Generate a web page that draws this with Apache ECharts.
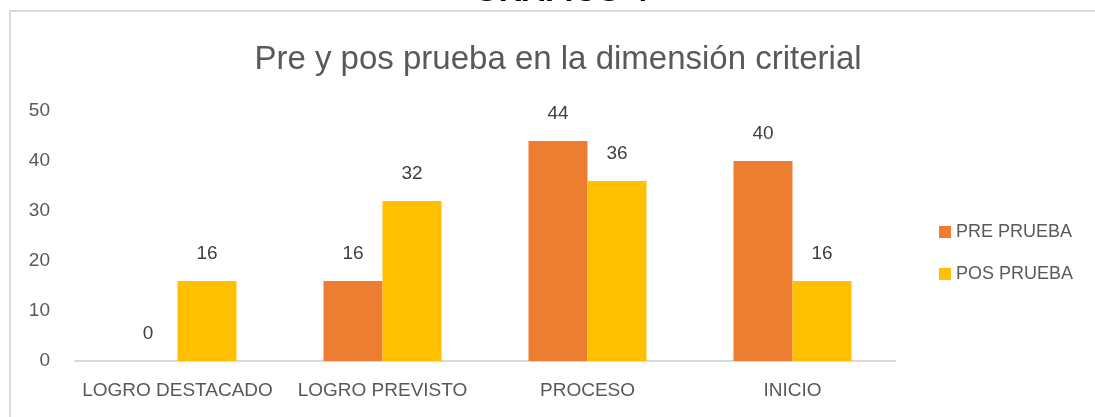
<!DOCTYPE html>
<html>
<head>
<meta charset="utf-8">
<script src="https://cdn.jsdelivr.net/npm/echarts@6/dist/echarts.min.js"></script>
<style>
  html, body { margin: 0; padding: 0; background: #fff; }
  #chart { width: 1095px; height: 417px; }
</style>
</head>
<body>
<div id="chart"></div>
<script>
const categories = ['LOGRO DESTACADO', 'LOGRO PREVISTO', 'PROCESO', 'INICIO']
const preValues = [0, 16, 44, 40]
const posValues = [16, 32, 36, 16]
const seriesNames = ['PRE PRUEBA', 'POS PRUEBA']

const fontFamily = 'Liberation Sans, Arial, sans-serif'
const labelColor = '#404040'
const axisColor = '#595959'

const chart = echarts.init(document.getElementById('chart'))

const barLabel = {
  show: true,
  position: 'top',
  distance: 18,
  color: labelColor,
  fontSize: 19,
  fontFamily,
}

chart.setOption({
  animation: false,
  title: {
    text: 'Pre y pos prueba en la dimensión criterial',
    left: 553,
    textAlign: 'center',
    top: 38,
    textStyle: {
      color: axisColor,
      fontSize: 33,
      fontWeight: 'normal',
      fontFamily,
    },
  },
  graphic: [
    {
      type: 'rect',
      shape: { x: 10, y: 11, width: 1100, height: 420 },
      style: { fill: 'none', stroke: '#d9d9d9', lineWidth: 2 },
      silent: true,
    },
    {
      // page heading above the chart box, cut off at the top
      type: 'text',
      x: 561,
      y: -8,
      style: {
        text: 'GRÁFICO 4',
        align: 'center',
        verticalAlign: 'middle',
        fill: '#000',
        font: 'bold 32px Liberation Sans, Arial, sans-serif',
      },
      silent: true,
    },
  ],
  legend: {
    orient: 'vertical',
    left: 934,
    top: 218,
    itemWidth: 12,
    itemHeight: 12,
    itemGap: 24,
    icon: 'rect',
    data: seriesNames,
    textStyle: {
      color: axisColor,
      fontSize: 18,
      fontFamily,
    },
  },
  grid: {
    left: 75,
    right: 200,
    top: 111,
    bottom: 56,
    containLabel: false,
  },
  xAxis: {
    type: 'category',
    data: categories,
    axisLine: { lineStyle: { color: '#d9d9d9', width: 2 } },
    axisTick: { show: false },
    axisLabel: {
      color: axisColor,
      fontSize: 19,
      fontFamily,
      margin: 20,
      interval: 0,
    },
  },
  yAxis: {
    type: 'value',
    min: 0,
    max: 50,
    interval: 10,
    axisLine: { show: false },
    axisTick: { show: false },
    splitLine: { show: false },
    axisLabel: {
      color: axisColor,
      fontSize: 19,
      fontFamily,
      margin: 25,
    },
  },
  series: [
    {
      name: seriesNames[0],
      type: 'bar',
      data: preValues,
      itemStyle: { color: '#ED7D31' },
      barWidth: 59,
      barGap: '0%',
      label: barLabel,
    },
    {
      name: seriesNames[1],
      type: 'bar',
      data: posValues,
      itemStyle: { color: '#FFC000' },
      barWidth: 59,
      barGap: '0%',
      label: barLabel,
    },
  ],
})
</script>
</body>
</html>
